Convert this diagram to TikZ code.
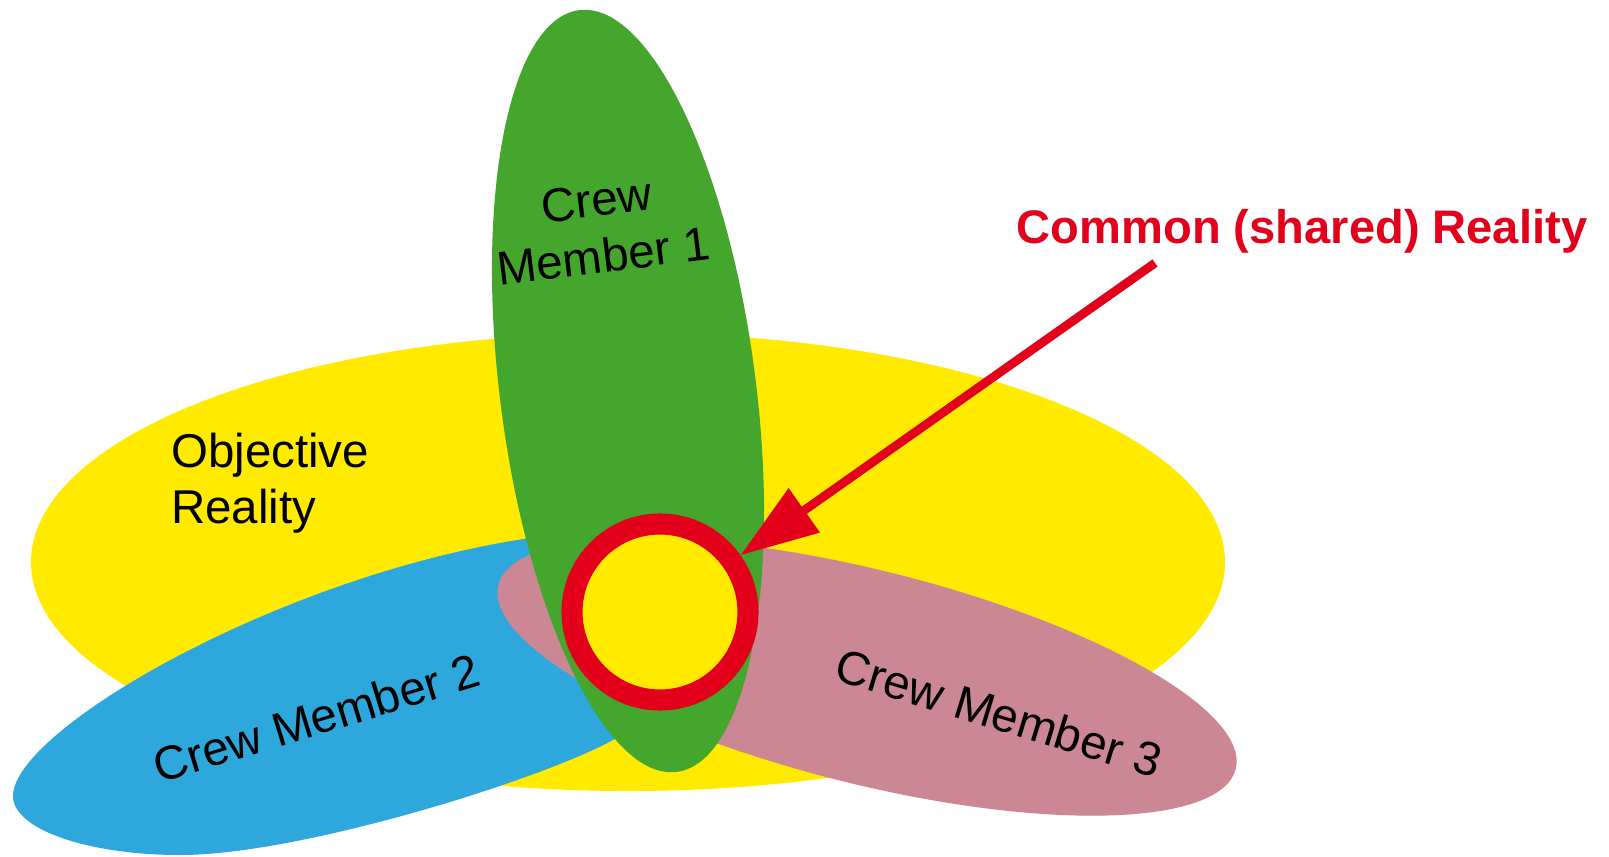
\documentclass[tikz,border=0pt]{standalone}
\usepackage{fontspec}
\setmainfont{Liberation Sans}
\usepackage{xcolor}
\usepackage{tikz}
\usetikzlibrary{arrows.meta,shapes.geometric,calc}
\definecolor{objY}{RGB}{255,234,0}
\definecolor{cmG}{RGB}{68,166,44}
\definecolor{cmB}{RGB}{46,168,220}
\definecolor{cmP}{RGB}{203,135,148}
\definecolor{shR}{RGB}{226,0,26}

\begin{document}
\begin{tikzpicture}[>=Stealth,
  blob/.style={ellipse,inner sep=0pt,draw=none},
  lbl/.style={inner sep=1pt,font=\fontsize{13.5}{16}\selectfont},
  arr/.style={-{Triangle[length=7.8mm,width=5.2mm]},line width=2.5pt,draw=shR}]
\useasboundingbox (0,0) rectangle (16.09,8.56);
\node[blob,fill=objY,minimum width=11.94cm,minimum height=4.58cm] (obj) at (6.28,2.94) {};
% crew member 2: egg shape, blunt end to the left
\fill[cmB] (0.13,0.60) .. controls (0.13,1.26) and (2.80,2.81) .. (5.30,3.18)
  .. controls (6.20,3.28) and (6.90,2.96) .. (6.90,2.46)
  .. controls (6.90,1.86) and (6.60,1.41) .. (6.13,1.16)
  .. controls (5.40,0.76) and (3.00,0.01) .. (1.80,0.01)
  .. controls (0.90,0.01) and (0.13,0.26) .. cycle;
\node[blob,fill=cmP,minimum width=7.60cm,minimum height=2.14cm,rotate=-14] (cm3) at (8.67,1.79) {};
\node[blob,fill=cmG,minimum width=7.68cm,minimum height=2.56cm,rotate=97.3] (cm1) at (6.28,4.65) {};
\node[circle,draw=shR,fill=objY,line width=6pt,minimum size=1.76cm,inner sep=0pt] (ring) at (6.60,2.44) {};
\node[lbl,align=left,anchor=west] (tobj) at (1.67,3.73) {Objective\\Reality};
\node[lbl,align=center,rotate=7] (t1) at (6.00,6.28) {Crew\\Member 1};
\node[lbl,rotate=17] (t2) at (3.16,1.38) {Crew Member 2};
\node[lbl,rotate=-17] (t3) at (9.99,1.43) {Crew Member 3};
\node[lbl,text=shR,font=\fontsize{13.4}{16}\selectfont\bfseries] (common) at (13.02,6.25) {Common (shared) Reality};
\coordinate (src) at (11.55,5.93);
\draw[arr] (src) -- (ring);
\end{tikzpicture}
\end{document}
